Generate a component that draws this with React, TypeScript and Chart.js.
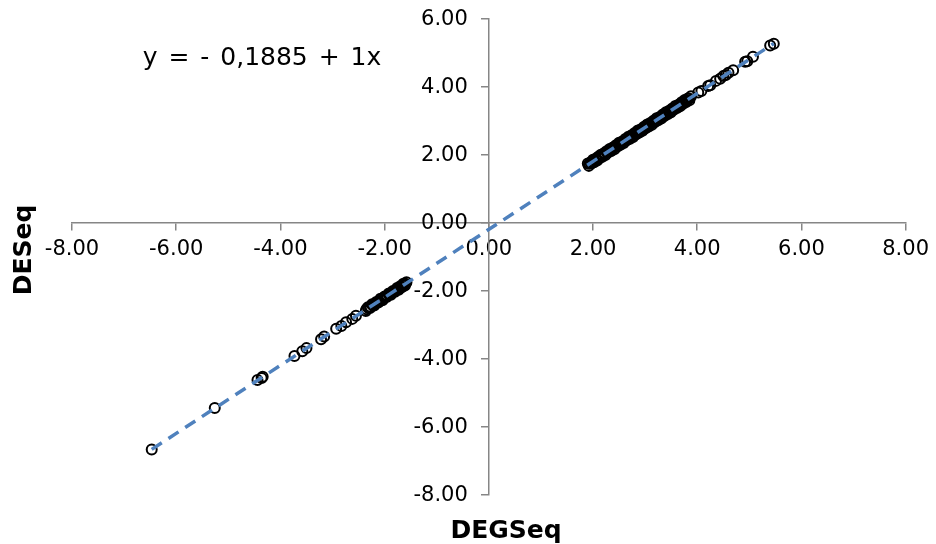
import React, { useEffect, useRef } from "react";
import { Chart, registerables } from "chart.js";

Chart.register(...registerables);

const posX = [
  1.90, 1.92, 1.95, 1.97, 2.00, 2.02, 2.05, 2.08, 2.10, 2.13, 2.15, 2.18, 2.21, 2.24, 2.26, 2.29,
  2.32, 2.35, 2.38, 2.41, 2.44, 2.47, 2.50, 2.53, 2.56, 2.59, 2.62, 2.65, 2.68, 2.71, 2.74, 2.77,
  2.80, 2.83, 2.86, 2.89, 2.92, 2.95, 2.98, 3.01, 3.04, 3.07, 3.10, 3.13, 3.16, 3.19, 3.22, 3.25,
  3.28, 3.31, 3.34, 3.37, 3.40, 3.43, 3.46, 3.49, 3.52, 3.55, 3.58, 3.61, 3.64, 3.67, 3.70, 3.73,
  3.76, 3.79, 3.82, 3.85, 3.88,
  4.02, 4.08, 4.21, 4.25, 4.36, 4.44, 4.50, 4.55, 4.60, 4.69, 4.92, 4.96, 5.07, 5.40, 5.47,
];
const posY = [
  1.75, 1.68, 1.78, 1.75, 1.86, 1.79, 1.89, 1.84, 1.95, 1.91, 2.01, 1.95, 2.05, 2.00, 2.11, 2.07,
  2.18, 2.12, 2.22, 2.17, 2.29, 2.25, 2.36, 2.30, 2.40, 2.35, 2.47, 2.43, 2.54, 2.48, 2.58, 2.53,
  2.65, 2.61, 2.72, 2.66, 2.76, 2.71, 2.83, 2.79, 2.90, 2.84, 2.94, 2.89, 3.01, 2.97, 3.08, 3.02,
  3.12, 3.07, 3.19, 3.15, 3.26, 3.20, 3.30, 3.25, 3.37, 3.33, 3.44, 3.38, 3.48, 3.43, 3.55, 3.51,
  3.62, 3.56, 3.66, 3.61, 3.73,
  3.84, 3.88, 4.03, 4.05, 4.18, 4.24, 4.32, 4.35, 4.42, 4.49, 4.74, 4.76, 4.89, 5.22, 5.27,
];
const posX2 = [
  1.93, 1.98, 2.03, 2.07, 2.12, 2.17, 2.22, 2.27, 2.31, 2.36, 2.40, 2.45, 2.49, 2.54, 2.58, 2.63,
  2.67, 2.72, 2.76, 2.81, 2.85, 2.90, 2.94, 2.99, 3.03, 3.08, 3.12, 3.17, 3.21, 3.26, 3.30, 3.35,
  3.39, 3.44, 3.48, 3.53, 3.57, 3.62, 3.66, 3.71, 3.75, 3.80, 3.84,
];
const posY2 = [
  1.74, 1.80, 1.84, 1.87, 1.94, 1.97, 2.04, 2.07, 2.13, 2.16, 2.22, 2.25, 2.31, 2.34, 2.40, 2.43,
  2.49, 2.52, 2.58, 2.61, 2.67, 2.70, 2.76, 2.79, 2.85, 2.88, 2.94, 2.97, 3.03, 3.06, 3.12, 3.15,
  3.21, 3.24, 3.30, 3.33, 3.39, 3.42, 3.48, 3.51, 3.57, 3.60, 3.66,
];
const negX = [
  -1.58, -1.61, -1.64, -1.67, -1.70, -1.73, -1.76, -1.80, -1.84, -1.88, -1.92, -1.96, -2.00, -2.04,
  -2.08, -2.12, -2.16, -2.20, -2.24, -2.28, -2.32, -2.36,
  -2.55, -2.62, -2.74, -2.83, -2.93, -3.16, -3.22, -3.50, -3.58, -3.73, -4.34, -4.36, -4.44, -5.26, -6.47,
];
const negY = [
  -1.74, -1.84, -1.79, -1.89, -1.86, -1.96, -1.91, -2.02, -2.00, -2.11, -2.07, -2.18, -2.16, -2.27,
  -2.23, -2.34, -2.32, -2.43, -2.39, -2.50, -2.48, -2.59,
  -2.73, -2.82, -2.92, -3.03, -3.11, -3.34, -3.42, -3.68, -3.77, -3.91, -4.52, -4.56, -4.62, -5.44, -6.66,
];
const negX2 = [
  -1.60, -1.65, -1.69, -1.74, -1.78, -1.83, -1.87, -1.91, -1.95, -1.99, -2.03, -2.07, -2.11, -2.15,
  -2.19, -2.23, -2.27, -2.31, -2.35,
];
const negY2 = [
  -1.79, -1.84, -1.88, -1.93, -1.97, -2.02, -2.06, -2.10, -2.14, -2.18, -2.22, -2.26, -2.30, -2.34,
  -2.38, -2.42, -2.46, -2.50, -2.54,
];

const trendIntercept = -0.1885;
const trendSlope = 1;
const trendX = [-6.47, 5.47];

const xTicks = [-8, -6, -4, -2, 0, 2, 4, 6, 8];
const yTicks = [-8, -6, -4, -2, 0, 2, 4, 6];

const equationText = "y = - 0,1885 + 1x";
const xTitle = "DEGSeq";
const yTitle = "DESeq";

const FONT = "'DejaVu Sans', Verdana, sans-serif";
const AXIS_COLOR = "#868686";

function pairs(xs: number[], ys: number[]) {
  return xs.map((x, i) => ({ x, y: ys[i] }));
}

export default function App() {
  const ref = useRef<HTMLCanvasElement | null>(null);

  useEffect(() => {
    if (!ref.current) return;
    const points = [
      ...pairs(posX, posY),
      ...pairs(posX2, posY2),
      ...pairs(negX, negY),
      ...pairs(negX2, negY2),
    ];
    const trend = trendX.map((x) => ({ x, y: trendIntercept + trendSlope * x }));

    const textPlugin = {
      id: "texts",
      afterDraw(chart: any) {
        const ctx = chart.ctx;
        const xs = chart.scales.x;
        const ys = chart.scales.y;
        ctx.save();
        ctx.fillStyle = "#000";
        // y tick labels
        ctx.font = `21px ${FONT}`;
        ctx.textAlign = "right";
        ctx.textBaseline = "middle";
        const axisX = xs.getPixelForValue(0);
        yTicks.forEach((v) => {
          ctx.fillText(v.toFixed(2), axisX - 21, ys.getPixelForValue(v) + 1);
        });
        // equation
        ctx.font = `25px ${FONT}`;
        ctx.textAlign = "center";
        ctx.textBaseline = "alphabetic";
        try {
          (ctx as any).wordSpacing = "3px";
        } catch (e) {}
        ctx.fillText(equationText, 262, 65);
        try {
          (ctx as any).wordSpacing = "0px";
        } catch (e) {}
        // axis titles
        ctx.font = `bold 25px ${FONT}`;
        ctx.fillText(xTitle, 506, 538);
        ctx.translate(31, 250);
        ctx.rotate(-Math.PI / 2);
        ctx.fillText(yTitle, 0, 0);
        ctx.restore();
      },
    };

    const chart = new Chart(ref.current, {
      type: "scatter",
      data: {
        datasets: [
          {
            label: "trend",
            data: trend,
            showLine: true,
            borderColor: "#4F81BD",
            borderWidth: 3.5,
            borderDash: [12, 8],
            pointRadius: 0,
            order: 0,
          },
          {
            label: "points",
            data: points,
            pointRadius: 5,
            pointBorderWidth: 2,
            pointBorderColor: "#000",
            pointBackgroundColor: "rgba(255,255,255,0)",
            borderColor: "#000",
            backgroundColor: "rgba(255,255,255,0)",
            order: 1,
          },
        ],
      },
      options: {
        animation: false,
        responsive: true,
        maintainAspectRatio: false,
        layout: { padding: { left: 72, right: 23, top: 19, bottom: 49 } },
        plugins: { legend: { display: false }, tooltip: { enabled: false } },
        scales: {
          x: {
            type: "linear",
            position: { y: 0 } as any,
            min: -8,
            max: 8,
            afterBuildTicks: (s: any) => {
              s.ticks = xTicks.map((v) => ({ value: v }));
            },
            grid: { drawOnChartArea: false, drawTicks: true, tickLength: 7, color: AXIS_COLOR, lineWidth: 1.5 },
            border: { color: AXIS_COLOR, width: 1.5 },
            ticks: {
              color: "#000",
              font: { family: FONT, size: 21 },
              padding: 7,
              maxRotation: 0,
              autoSkip: false,
              callback: (v: any) => Number(v).toFixed(2),
            },
          },
          y: {
            type: "linear",
            position: { x: 0 } as any,
            min: -8,
            max: 6,
            afterBuildTicks: (s: any) => {
              s.ticks = yTicks.map((v) => ({ value: v }));
            },
            grid: { drawOnChartArea: false, drawTicks: true, tickLength: 7, color: AXIS_COLOR, lineWidth: 1.5 },
            border: { color: AXIS_COLOR, width: 1.5 },
            ticks: {
              display: false,
              autoSkip: false,
            },
          },
        },
      },
      plugins: [textPlugin],
    });
    return () => chart.destroy();
  }, []);

  return (
    <div style={{ position: "fixed", left: 0, top: 0, width: 936, height: 544, background: "#fff" }}>
      <canvas ref={ref} />
    </div>
  );
}
